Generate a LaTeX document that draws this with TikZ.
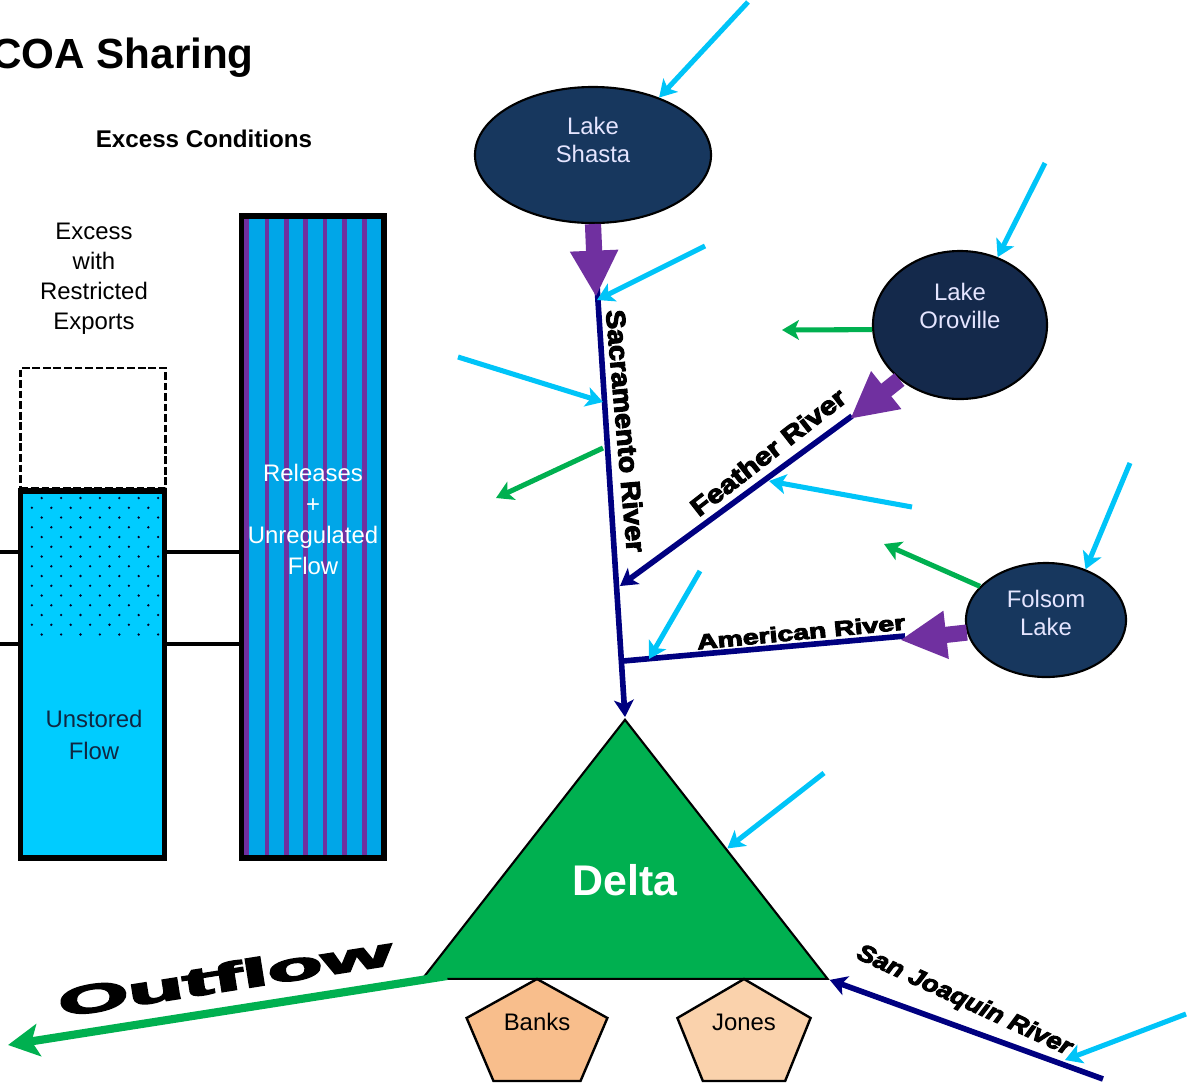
\documentclass[tikz,border=0pt]{standalone}
\usepackage{fontspec}
\setmainfont{Liberation Sans}
\newfontfamily\blackfont[BoldFeatures={FakeBold=4},BoldItalicFeatures={FakeBold=4}]{Liberation Sans}
\usetikzlibrary{arrows.meta,shapes.geometric,calc}
\definecolor{lakeblue}{HTML}{17375E}
\definecolor{lakedark}{HTML}{14294B}
\definecolor{inflowblue}{HTML}{00C4F8}
\definecolor{barblue}{HTML}{00CCFF}
\definecolor{stripeblue}{HTML}{00A6E8}
\definecolor{relpurple}{HTML}{7030A0}
\definecolor{divgreen}{HTML}{00B050}
\definecolor{rivernavy}{HTML}{000080}
\definecolor{banksfill}{HTML}{F8BE8C}
\definecolor{jonesfill}{HTML}{FAD2AC}

\begin{document}
\begin{tikzpicture}[
    x=0.025cm, y=-0.025cm,
    inner sep=0pt,
    txt/.style={font=\fontsize{17}{21.5}\selectfont,align=center},
    lake/.style={ellipse,draw=black,line width=1.5pt,fill=lakeblue},
    laketxt/.style={text=white!90!blue,font=\fontsize{17}{20}\selectfont,align=center},
    pump/.style={regular polygon,regular polygon sides=5,draw=black,line width=1.7pt},
    barbox/.style={rectangle,draw=black,line width=4pt},
    level/.style={draw=black,line width=2.2pt},
    river/.style={draw=rivernavy,line width=4pt,-{Stealth[length=12pt,width=14pt,inset=3pt]}},
    inflow/.style={draw=inflowblue,line width=3.6pt,-{Stealth[length=12pt,width=14pt,inset=3pt]}},
    divert/.style={draw=divgreen,line width=3.6pt,-{Stealth[length=12pt,width=14pt,inset=3pt]}},
    release/.style={draw=relpurple,line width=11.5pt,-{Triangle[length=33pt,width=32pt]}},
    rivername/.style={font=\blackfont\bfseries\fontsize{19}{19}\selectfont},
    ]
    \useasboundingbox (0,0) rectangle (1192,1088);

    %Titles
    \node[anchor=east,font=\bfseries\fontsize{30}{30}\selectfont] (title) at (254,58) {COA Sharing};
    \node[font=\bfseries\fontsize{17.2}{21}\selectfont] (conditions) at (204,139) {Excess Conditions};
    \node[txt,font=\fontsize{17}{21.4}\selectfont] (excesstext) at (94,279) {Excess\\with\\Restricted\\Exports};

    %Stored bar
    \node[barbox,dash pattern=on 5.5pt off 2pt,line width=1.8pt,minimum width=3.62cm,minimum height=3cm] (excessbox) at (93,428) {};
    \node[barbox,fill=barblue,minimum width=3.6cm,minimum height=9.18cm] (storedbar) at (92.5,674.5) {};
    \foreach \k in {0,2,...,14} {
        \foreach \i in {0,...,6} {
            \fill[black!85!blue] (41.7+19.4*\i,498+9.75*\k) circle (1.3);
        }
    }
    \foreach \k in {1,3,...,13} {
        \foreach \i in {0,...,6} {
            \fill[black!85!blue] (31.9+19.4*\i,498+9.75*\k) circle (1.3);
        }
    }
    \node[txt,text=lakeblue!70!black,font=\fontsize{17}{22.8}\selectfont] (unstored) at (94,735) {Unstored\\Flow};

    %Release bar
    \node[barbox,line width=4.2pt,fill=stripeblue,minimum width=3.55cm,minimum height=16.05cm] (releasebar) at (313,537) {};
    \foreach \sx in {246.7,267,286.3,305.7,325,344.3,364.3} {
        \draw[relpurple,line width=3.2pt] (\sx,219) -- (\sx,855);
    }
    \node[txt,text=white,font=\fontsize{17}{22}\selectfont] (releasetext) at (313,519.5) {Releases\\+\\Unregulated\\Flow};

    %Levels
    \coordinate (levelone) at (0,552);
    \coordinate (leveltwo) at (0,644);
    \draw[level] (levelone) -- (levelone -| storedbar.west);
    \draw[level] (levelone -| storedbar.east) -- (levelone -| releasebar.west);
    \draw[level] (leveltwo) -- (leveltwo -| storedbar.west);
    \draw[level] (leveltwo -| storedbar.east) -- (leveltwo -| releasebar.west);

    %Lakes
    \node[lake,minimum width=5.9cm,minimum height=3.4cm] (shasta) at (593,155) {};
    \node[lake,fill=lakedark,minimum width=4.35cm,minimum height=3.7cm] (oroville) at (960,325) {};
    \node[lake,minimum width=4cm,minimum height=2.85cm] (folsom) at (1046,620) {};
    \node[laketxt] (shastatext) at (593,140) {Lake\\Shasta};
    \node[laketxt] (orovilletext) at (960,306) {Lake\\Oroville};
    \node[laketxt] (folsomtext) at (1046,613) {Folsom\\Lake};

    %Delta and pumps
    \node[isosceles triangle,isosceles triangle stretches,shape border rotate=90,draw=black,line width=1.5pt,
        fill=divgreen,minimum width=10.125cm,minimum height=6.475cm,anchor=apex] (delta) at (625,717) {};
    \node[text=white,font=\bfseries\fontsize{30.5}{30.5}\selectfont] (deltatext) at (625,880) {Delta};
    \node[pump,fill=banksfill,minimum size=3.7cm,yscale=0.762] (banks) at (537,1035.4) {};
    \node[pump,fill=jonesfill,minimum size=3.5cm,yscale=0.805] (jones) at (744,1035.4) {};
    \node[txt] (bankstext) at (537,1022) {Banks};
    \node[txt] (jonestext) at (744,1022) {Jones};

    %Rivers
    \coordinate (featherend) at (620,586);
    \coordinate (featherstart) at (852,416);
    \coordinate (americanend) at (623,661);
    \coordinate (americanstart) at (905,636);
    \coordinate (joaquinstart) at (1103,1079);
    \draw[river] (shasta.south) -- (delta.apex);
    \draw[river] (featherstart) -- (featherend);
    \draw[river,-] (americanstart) -- (americanend);
    \draw[river] (joaquinstart) -- (delta.right corner);

    %Releases
    \coordinate (shastaout) at (596,297);
    \coordinate (orovilleout) at (850,419);
    \coordinate (folsomout) at (900,640);
    \draw[release] (shasta.south) -- (shastaout);
    \draw[release] (oroville.222) -- (orovilleout);
    \draw[release] (folsom.189) -- (folsomout);

    %Inflows
    \coordinate (ina) at (748,2);
    \coordinate (inb) at (705,246);
    \coordinate (inbend) at (597,300);
    \coordinate (inc) at (458,357);
    \coordinate (incend) at (603,402);
    \coordinate (ind) at (1045,163);
    \coordinate (ine) at (912,507);
    \coordinate (ineend) at (769,481);
    \coordinate (inf) at (700,571);
    \coordinate (infend) at (649,659);
    \coordinate (ing) at (1130,463);
    \coordinate (inh) at (824,773);
    \coordinate (ini) at (1186,1014);
    \coordinate (iniend) at (1065,1060);
    \draw[inflow] (ina) -- (shasta.41);
    \draw[inflow] (inb) -- (inbend);
    \draw[inflow] (inc) -- (incend);
    \draw[inflow] (ind) -- (oroville.61);
    \draw[inflow] (ine) -- (ineend);
    \draw[inflow] (inf) -- (infend);
    \draw[inflow] (ing) -- (folsom.52);
    \draw[inflow] (inh) -- (delta.right side);
    \draw[inflow] (ini) -- (iniend);

    %Diversions
    \coordinate (diva) at (603,448);
    \coordinate (divaend) at (496,498);
    \coordinate (divbend) at (782,330);
    \coordinate (divcend) at (884,544);
    \coordinate (outstart) at (447,976);
    \coordinate (outend) at (8,1045);
    \draw[divert] (diva) -- (divaend);
    \draw[divert] (oroville.183) -- (divbend);
    \draw[divert] (folsom.153) -- (divcend);
    \draw[divert,line width=5.8pt,-{Stealth[length=22pt,width=23pt,inset=5pt]}] (outstart) -- (outend);

    %River names
    \node[rivername,rotate=-85,xscale=1.07] (sacname) at (626,431) {Sacramento River};
    \node[rivername,rotate=38,xscale=1.17,font=\blackfont\bfseries\fontsize{18}{18}\selectfont] (feathername) at (768,452) {Feather River};
    \node[rivername,rotate=5.5,xscale=1.35,font=\blackfont\bfseries\fontsize{15}{15}\selectfont] (americanname) at (801,632) {American River};
    \node[rivername,rotate=-24.7,xscale=1.12,font=\blackfont\bfseries\itshape\fontsize{17}{17}\selectfont] (joaquinname) at (964,1001) {San Joaquin River};
    \node[rivername,rotate=9,xscale=2.3,font=\blackfont\bfseries\fontsize{28}{28}\selectfont] (outname) at (225,977) {Outflow};

\end{tikzpicture}
\end{document}
